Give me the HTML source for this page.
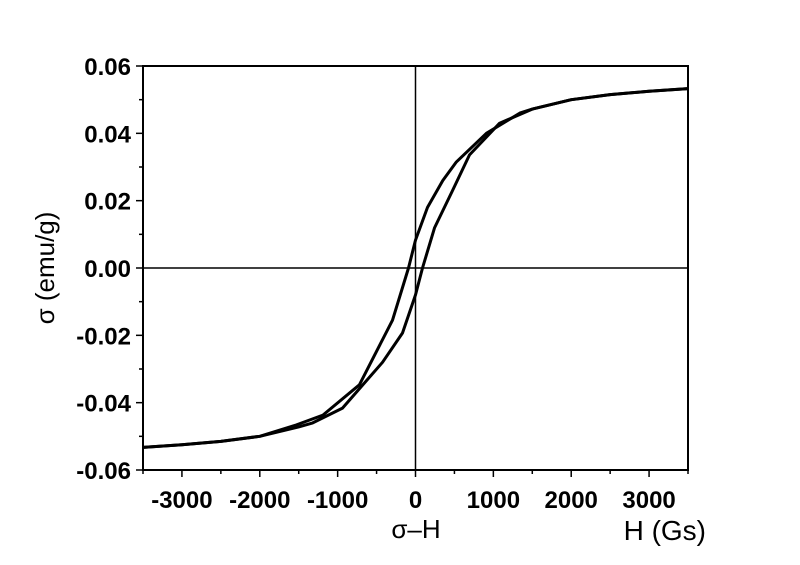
<!DOCTYPE html>
<html><head><meta charset="utf-8"><style>body{margin:0;background:#fff}svg{display:block}</style></head>
<body>
<svg id="chart" width="800" height="565" xmlns="http://www.w3.org/2000/svg" font-family="Liberation Sans, Arial, sans-serif"></svg>
<script>
const descH=[3500,3000,2500,2000,1500,1340,910,525,350,154,0,-90,-295,-720,-1190,-1530,-2000,-2500,-3000,-3500];
const descS=[0.0533,0.0525,0.0515,0.050,0.0472,0.046,0.040,0.0315,0.026,0.018,0.0083,0,-0.0155,-0.0347,-0.0437,-0.0466,-0.050,-0.0515,-0.0525,-0.0533];
const ascH=[-3500,-3000,-2500,-2000,-1500,-1320,-937,-424,-167,0,90,244,475,693,1080,1500,2000,2500,3000,3500];
const ascS=[-0.0533,-0.0525,-0.0515,-0.050,-0.0472,-0.046,-0.0416,-0.028,-0.0193,-0.008,0,0.0119,0.023,0.0336,0.043,0.0472,0.050,0.0515,0.0525,0.0533];
const xTicks=[-3000,-2000,-1000,0,1000,2000,3000];
const yTicks=[-0.06,-0.04,-0.02,0,0.02,0.04,0.06];
const yLabels=["-0.06","-0.04","-0.02","0.00","0.02","0.04","0.06"];

const L=143,R=688,T=66,B=470,xmin=-3500,xmax=3500,ymin=-0.06,ymax=0.06;
const sx=v=>L+(v-xmin)/(xmax-xmin)*(R-L);
const sy=v=>B-(v-ymin)/(ymax-ymin)*(B-T);
const svg=document.getElementById('chart');
const NS="http://www.w3.org/2000/svg";
function mk(tag,attrs){const e=document.createElementNS(NS,tag);for(const k in attrs)e.setAttribute(k,attrs[k]);svg.appendChild(e);return e;}

let e=mk('rect',{x:L,y:T,width:R-L,height:B-T,fill:'none',stroke:'#000','stroke-width':2});


e=mk('line',{x1:sx(0),x2:sx(0),y1:T,y2:B,stroke:'#000','stroke-width':1.5});


e=mk('line',{x1:L,x2:R,y1:sy(0),y2:sy(0),stroke:'#000','stroke-width':1.5});



for(let v=-3500;v<=3500;v+=500){
  const major=xTicks.includes(v);
  e=mk('line',{x1:sx(v),x2:sx(v),y1:B,y2:B+(major?7:4),stroke:'#000','stroke-width':1.5});
  
  
}
xTicks.forEach(v=>{
  e=mk('text',{x:sx(v),y:508,'text-anchor':'middle','font-size':24,'font-weight':'bold'});
  e.textContent=String(v);
  
  
});
for(let i=0;i<=12;i++){
  const v=-0.06+i*0.01;
  const major=i%2===0;
  e=mk('line',{x1:L,x2:L-(major?7:4),y1:sy(v),y2:sy(v),stroke:'#000','stroke-width':1.5});
  
  
}
yTicks.forEach((v,i)=>{
  e=mk('text',{x:131,y:sy(v)+9,'text-anchor':'end','font-size':24,'font-weight':'bold'});
  e.textContent=yLabels[i];
  
  
});

function path(H,S){return H.map((h,i)=>(i?'L':'M')+sx(h).toFixed(1)+','+sy(S[i]).toFixed(1)).join(' ');}
e=mk('path',{d:path(descH,descS),fill:'none',stroke:'#000','stroke-width':3,'stroke-linejoin':'round'});


e=mk('path',{d:path(ascH,ascS),fill:'none',stroke:'#000','stroke-width':3,'stroke-linejoin':'round'});



e=mk('text',{x:416,y:538,'text-anchor':'middle','font-size':26});
e.textContent='σ–H';


e=mk('text',{x:706,y:540,'text-anchor':'end','font-size':28});
e.textContent='H (Gs)';


e=mk('text',{x:0,y:0,'text-anchor':'middle','font-size':26,transform:'translate(54,268) rotate(-90)'});
e.textContent='σ (emu/g)';


</script>
</body></html>
